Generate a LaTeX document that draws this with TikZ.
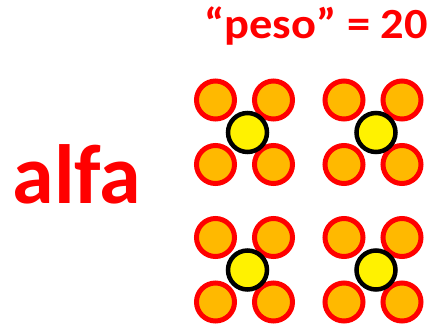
\documentclass[tikz,border=0pt]{standalone}
\usepackage{fontspec}
\setmainfont{Carlito}
\definecolor{petalfill}{HTML}{FFB900}
\definecolor{hotred}{HTML}{FF0000}

\begin{document}
\begin{tikzpicture}[x=1pt, y=-1pt,
  every node/.style={text=hotred},
  petal/.style={circle, draw=hotred, fill=petalfill, line width=5pt, minimum size=38pt, inner sep=0pt},
  core/.style={circle, draw=black, fill=yellow, line width=4.5pt, minimum size=39pt, inner sep=0pt}]
  \useasboundingbox (0,0) rectangle (434,325);
  % labels
  \node[anchor=base, font=\fontsize{84}{84}\selectfont\bfseries] (alfa) at (77,203.5) {alfa};
  \node[anchor=base, font=\fontsize{43}{43}\selectfont\bfseries] (peso) at (316,38.3) {\scalebox{1.08}[1]{“peso” = 20}};
  % four clusters: petals first, core on top
  \foreach \cx/\cy [count=\k] in {247.5/132.5, 376/132.5, 247.5/270, 376/270} {
    \node[petal] (p\k nw) at (\cx-32,\cy-32.5) {};
    \node[petal] (p\k ne) at (\cx+26,\cy-32.5) {};
    \node[petal] (p\k sw) at (\cx-32,\cy+32) {};
    \node[petal] (p\k se) at (\cx+26,\cy+32) {};
    \node[core] (c\k) at (\cx,\cy) {};
  }
\end{tikzpicture}
\end{document}
